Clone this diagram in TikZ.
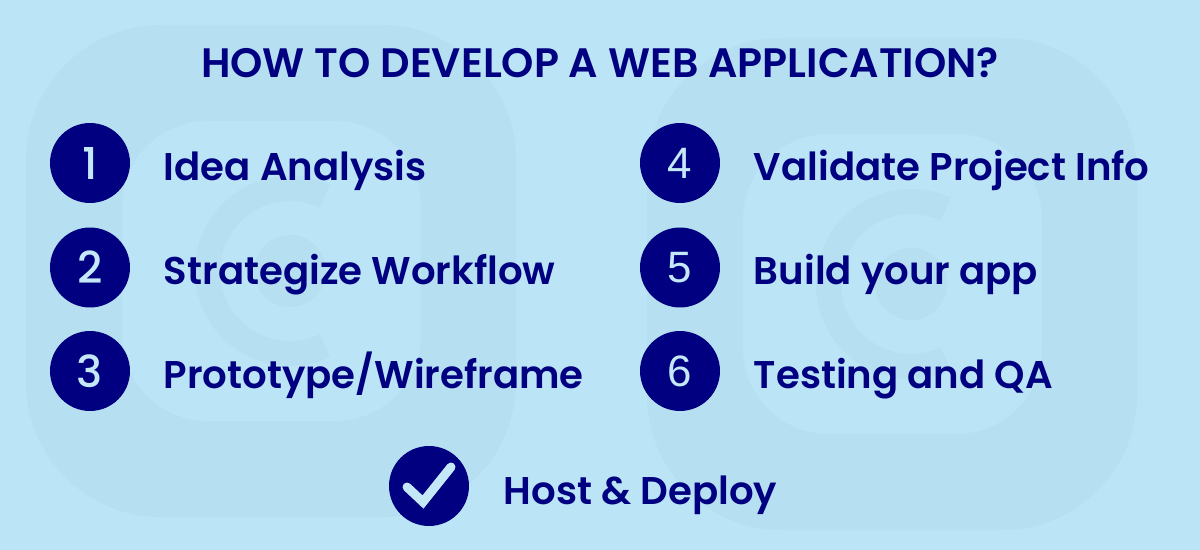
\documentclass[tikz,border=0pt]{standalone}
\usepackage{fontspec}
\setmainfont{Poppins}[BoldFont={Poppins SemiBold}]
\newfontfamily\digitfont{Poppins Medium}
\newfontfamily\plainfont{Liberation Sans}
\usepackage{xcolor}
\usetikzlibrary{calc}

\definecolor{skyback}{HTML}{BBE5F6}
\definecolor{skylogo}{HTML}{B6E0F2}
\definecolor{navytext}{HTML}{000080}
\definecolor{digitcol}{HTML}{C4E8F8}

\tikzset{
	stepcircle/.style = {circle, fill = navytext, text = digitcol, minimum size = 1.6cm, inner sep = 0pt, font = \fontsize{25}{25}\selectfont\digitfont},
	steplabel/.style = {anchor = base west, inner sep = 0pt, text = navytext, font = \fontsize{22}{24}\selectfont\bfseries},
	logo/.pic = {
		\fill [skylogo, even odd rule, rounded corners = 2.7cm] (26,25) rectangle (516,517)
			[rounded corners = 1.7cm] (122,121) rectangle (421,421);
		\draw [skylogo, line width = 0.5cm] (290,271) ++(-65:82.5) arc [start angle = 65, end angle = 295, radius = 1.65cm];
		\fill [skylogo] (290,271) circle [radius = 0.72cm];
	}
}

\begin{document}
\begin{tikzpicture}[x = 0.02cm, y = -0.02cm]
	\def\colA{90};
	\def\colB{680};
	\def\gap{73.5};

	\useasboundingbox (0,0) rectangle (1200,550);
	\fill [skyback] (0,0) rectangle (1200,550);

	\pic at (0,0) {logo};
	\pic at (621,13) {logo};

	\node (title) [anchor = base, inner sep = 0pt, text = navytext, font = \fontsize{23.4}{24}\selectfont\bfseries] at (600,78) {HOW TO DEVELOP A WEB APPLICATION?};

	% left column
	\node (circle one) [stepcircle] at (\colA,163) {1};
	\node (circle two) [stepcircle] at (\colA,267.5) {2};
	\node (circle three) [stepcircle] at (\colA,371) {3};
	\node (idea) [steplabel] at (\colA+\gap,181) {Idea Analysis};
	\node (workflow) [steplabel] at (\colA+\gap,285) {Strategize Workflow};
	\node (prototype) [steplabel] at (\colA+\gap,389) {Prototype/Wireframe};

	% right column
	\node (circle four) [stepcircle] at (\colB,163) {\plainfont 4};
	\node (circle five) [stepcircle] at (\colB,267.5) {\plainfont 5};
	\node (circle six) [stepcircle] at (\colB,371) {\plainfont 6};
	\node (validate) [steplabel] at (\colB+\gap,181) {Validate Project Info};
	\node (build) [steplabel] at (\colB+\gap,285) {Build your app};
	\node (testing) [steplabel] at (\colB+\gap,389) {Testing and QA};

	% last step
	\node (circle check) [stepcircle] at (429,486) {};
	\node (host) [steplabel] at (503.5,504) {Host \& Deploy};
	\draw [digitcol, line width = 0.18cm, line cap = round] (407,487) -- (423,502) -- (451,467);
\end{tikzpicture}
\end{document}
